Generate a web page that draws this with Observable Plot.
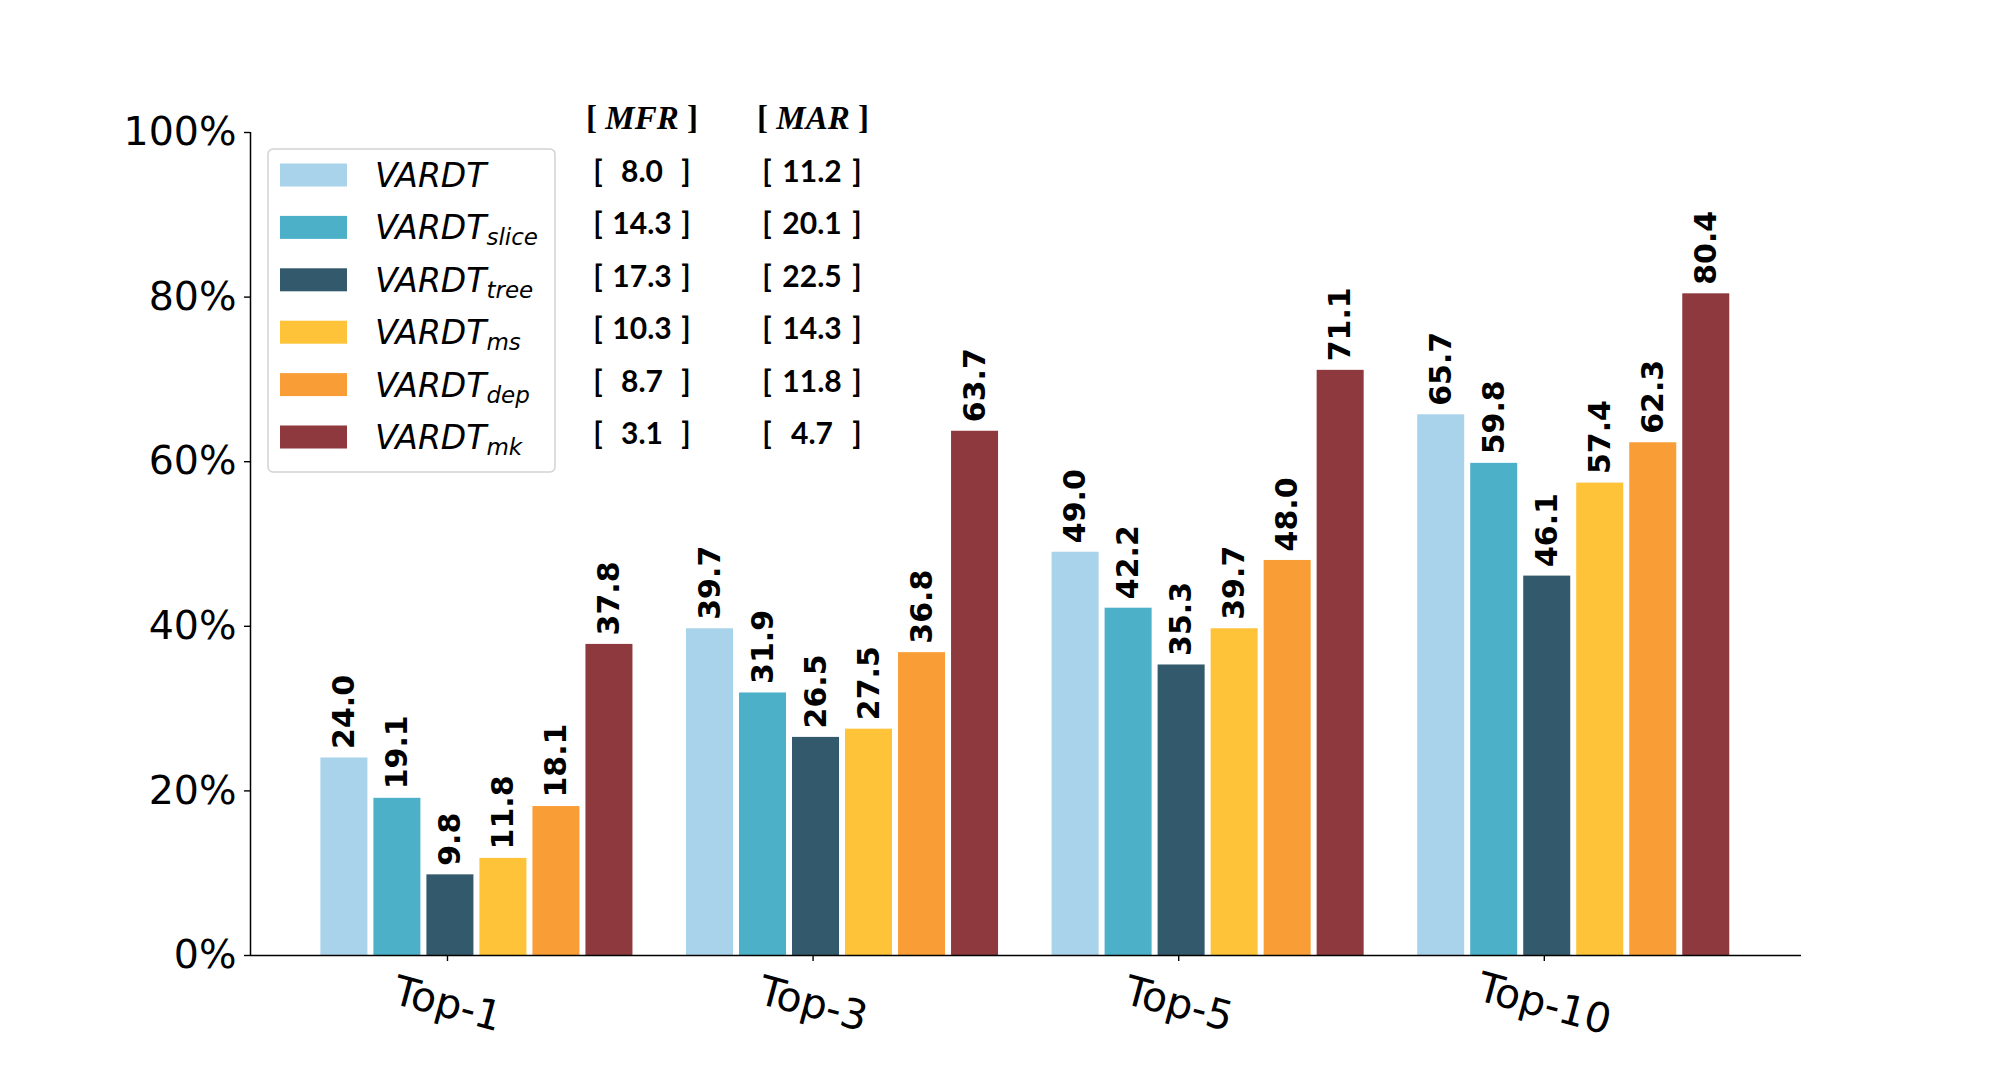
<!DOCTYPE html>
<html><head><meta charset="utf-8">
<script src="https://cdn.jsdelivr.net/npm/d3@7"></script>
<script src="https://cdn.jsdelivr.net/npm/@observablehq/plot@0.6"></script>
<style>
body{margin:0;background:#fff}
#chart{width:2002px;height:1075px}
</style>
</head><body><div id="chart"></div>
<script>
// ---- data ----
const groups = ["Top-1", "Top-3", "Top-5", "Top-10"];
const methods = ["VARDT", "VARDT_slice", "VARDT_tree", "VARDT_ms", "VARDT_dep", "VARDT_mk"];
const subscripts = ["", "slice", "tree", "ms", "dep", "mk"];
const colors = ["#a8d3ea", "#4cb0c9", "#33596c", "#fec338", "#f99e37", "#8e393e"];
const vardt      = [24.0, 39.7, 49.0, 65.7];
const vardtSlice = [19.1, 31.9, 42.2, 59.8];
const vardtTree  = [9.8, 26.5, 35.3, 46.1];
const vardtMs    = [11.8, 27.5, 39.7, 57.4];
const vardtDep   = [18.1, 36.8, 48.0, 62.3];
const vardtMk    = [37.8, 63.7, 71.1, 80.4];
const mfr = ["8.0", "14.3", "17.3", "10.3", "8.7", "3.1"];
const mar = ["11.2", "20.1", "22.5", "14.3", "11.8", "4.7"];
const yTicks = [0, 20, 40, 60, 80, 100];

const series = [vardt, vardtSlice, vardtTree, vardtMs, vardtDep, vardtMk];
const step = 0.145, half = 0.0643, shift = 0.008;
const rows = [];
series.forEach((vals, mi) => vals.forEach((v, gi) => {
  const c = gi + (mi - 2) * step + shift;
  rows.push({method: methods[mi], mi, gi, value: v, xc: c, x1: c - half, x2: c + half});
}));
const xDomain = [-0.5388, 3.7035];

const chart = Plot.plot({
  width: 2002,
  height: 1075,
  marginLeft: 250,
  marginRight: 201,
  marginTop: 132,
  marginBottom: 120,
  style: {fontFamily: "DejaVu Sans", background: "white", overflow: "visible"},
  x: {type: "linear", domain: xDomain},
  y: {domain: [0, 100]},
  color: {domain: methods, range: colors},
  marks: [
    Plot.rectY(rows, {x1: "x1", x2: "x2", y1: 0, y2: "value", fill: "method"}),
    Plot.text(rows, {x: "xc", y: "value", text: d => d.value.toFixed(1), rotate: -90,
      textAnchor: "start", lineAnchor: "middle", dy: -9, fontSize: 30, fontWeight: "bold", fill: "black"}),
    Plot.axisY({ticks: yTicks, tickFormat: d => d + "%", tickSize: 6, tickPadding: 8,
      fontSize: 39.5, label: null, stroke: "black", strokeWidth: 1.4, fill: "black"}),
    Plot.axisX({ticks: [0, 1, 2, 3], tickFormat: () => "", tickSize: 6, label: null,
      stroke: "black", strokeWidth: 1.4}),
    Plot.text(groups, {x: (d, i) => i, y: () => 0, text: d => d, rotate: 15, dy: 49,
      textAnchor: "middle", lineAnchor: "middle", fontSize: 41, fill: "black"}),
    Plot.ruleY([0], {stroke: "black", strokeWidth: 1.5}),
    Plot.ruleX([xDomain[0]], {stroke: "black", strokeWidth: 1.5})
  ]
});
document.getElementById("chart").appendChild(chart);

// ---- legend + MFR/MAR table ----
const svg = d3.select(chart);
const g = svg.append("g").attr("text-anchor", "start");
g.append("rect").attr("x", 268).attr("y", 149).attr("width", 287).attr("height", 323)
  .attr("rx", 5).attr("fill", "white").attr("fill-opacity", 0.85)
  .attr("stroke", "#d2d2d2").attr("stroke-width", 1.5);
const rowY = i => 175 + 52.4 * i;
methods.forEach((m, i) => {
  const cy = rowY(i);
  g.append("rect").attr("x", 280).attr("y", cy - 11.5).attr("width", 67).attr("height", 23)
    .attr("fill", colors[i]);
  const t = g.append("text").attr("x", 375).attr("y", cy + 12).attr("text-anchor", "start")
    .attr("font-family", "DejaVu Sans").attr("font-style", "italic").attr("font-size", 33)
    .attr("fill", "black");
  t.append("tspan").text("VARDT");
  if (subscripts[i]) t.append("tspan").attr("font-size", 23).attr("dy", 6).text(subscripts[i]);
  // table values
  const valY = cy + 7;
  [[598, 642, 686, mfr[i]], [767, 812, 857, mar[i]]].forEach(([lb, mid, rb, v]) => {
    const attrs = sel => sel.attr("y", valY).attr("font-family", "Lato, 'DejaVu Sans'")
      .attr("font-weight", "bold").attr("font-size", 30).attr("text-anchor", "middle").attr("fill", "black");
    g.append("text").call(attrs).attr("x", lb).text("[");
    g.append("text").call(attrs).attr("x", mid).text(v);
    g.append("text").call(attrs).attr("x", rb).text("]");
  });
});
[["MFR", 642], ["MAR", 813]].forEach(([h, x]) => {
  const t = g.append("text").attr("x", x).attr("y", 129).attr("text-anchor", "middle")
    .attr("font-family", "'Liberation Serif', 'Times New Roman', serif").attr("font-size", 33)
    .attr("font-weight", "bold").attr("fill", "black").style("white-space", "pre");
  t.append("tspan").text("[ ");
  t.append("tspan").attr("font-style", "italic").text(h);
  t.append("tspan").text(" ]");
});
</script>
</body></html>
